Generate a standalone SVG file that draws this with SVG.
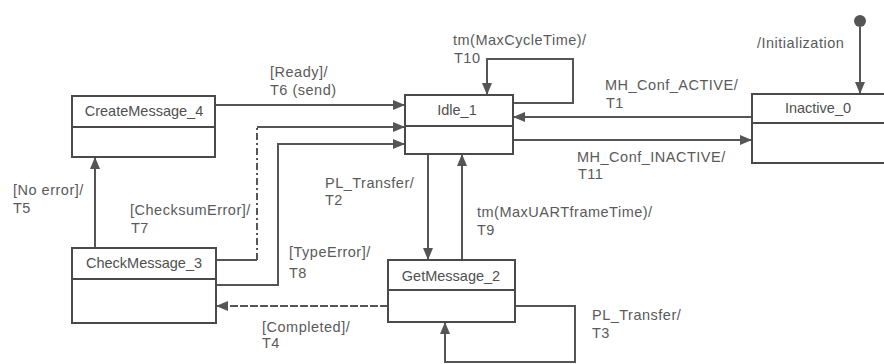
<svg xmlns="http://www.w3.org/2000/svg" width="884" height="364" viewBox="0 0 884 364">
<style>
.box{fill:#fff;stroke:#4a4a4a;stroke-width:2}
.div{stroke:#4a4a4a;stroke-width:2}
.name{font-family:"Liberation Sans",Arial,sans-serif;font-size:14.5px;fill:#505050;text-anchor:middle}
.lbl{font-family:"Liberation Sans",Arial,sans-serif;font-size:14.5px;fill:#5a5a5a;letter-spacing:0.5px}
.c{fill:none;stroke:#555;stroke-width:2}
.dd{stroke-dasharray:7,3,2,3}
.da{stroke-dasharray:8,2}
</style>
<defs>
<marker id="ah" markerWidth="12" markerHeight="10" refX="11" refY="5" orient="auto" markerUnits="userSpaceOnUse">
<path d="M0,0 L12,5 L0,10 Z" fill="#555"/>
</marker>
</defs>
<rect width="884" height="364" fill="#fff"/>
<g id="connectors">
<path class="c" d="M215,105 H404" marker-end="url(#ah)"/>
<path class="c" d="M216,260 H257"/>
<path class="c dd" d="M257,260 V127"/>
<path class="c" d="M257,127 H404" marker-end="url(#ah)"/>
<path class="c" d="M216,285 H278 V144 H404" marker-end="url(#ah)"/>
<path class="c" d="M95,248 V158" marker-end="url(#ah)"/>
<path class="c" d="M514,103 H573 V59 H487 V94" marker-end="url(#ah)"/>
<path class="c" d="M752,117 H514" marker-end="url(#ah)"/>
<path class="c" d="M513,140 H751" marker-end="url(#ah)"/>
<circle cx="860" cy="21" r="6" fill="#555"/>
<path class="c" d="M860,27 V93" marker-end="url(#ah)"/>
<path class="c" d="M428,154 V259" marker-end="url(#ah)"/>
<path class="c" d="M462,260 V155" marker-end="url(#ah)"/>
<path class="c da" d="M388,306 H217" marker-end="url(#ah)"/>
<path class="c" d="M515,306 H575 V362 H445 V323" marker-end="url(#ah)"/>
</g>
<g id="CreateMessage_4">
<rect class="box" x="72" y="96" width="143" height="61"/>
<line class="div" x1="72" y1="127" x2="215" y2="127"/>
<text class="name" x="144" y="116">CreateMessage_4</text>
</g>
<g id="Idle_1">
<rect class="box" x="405" y="95" width="108" height="59"/>
<line class="div" x1="405" y1="126" x2="513" y2="126"/>
<text class="name" x="457" y="115">Idle_1</text>
</g>
<g id="Inactive_0">
<rect class="box" x="752" y="94" width="140" height="69"/>
<line class="div" x1="752" y1="123" x2="892" y2="123"/>
<text class="name" x="818" y="113">Inactive_0</text>
</g>
<g id="CheckMessage_3">
<rect class="box" x="72" y="248" width="144" height="75"/>
<line class="div" x1="72" y1="279" x2="216" y2="279"/>
<text class="name" x="144" y="268">CheckMessage_3</text>
</g>
<g id="GetMessage_2">
<rect class="box" x="388" y="260" width="127" height="62"/>
<line class="div" x1="388" y1="290" x2="515" y2="290"/>
<text class="name" x="451" y="281">GetMessage_2</text>
</g>
<g id="labels">
<text class="lbl" x="270" y="77">[Ready]/</text>
<text class="lbl" x="270" y="95">T6 (send)</text>
<text class="lbl" x="453" y="45">tm(MaxCycleTime)/</text>
<text class="lbl" x="454" y="63">T10</text>
<text class="lbl" x="605" y="90">MH_Conf_ACTIVE/</text>
<text class="lbl" x="606" y="108">T1</text>
<text class="lbl" x="577" y="162">MH_Conf_INACTIVE/</text>
<text class="lbl" x="578" y="179">T11</text>
<text class="lbl" x="757" y="48">/Initialization</text>
<text class="lbl" x="13" y="195">[No error]/</text>
<text class="lbl" x="13" y="213">T5</text>
<text class="lbl" x="130" y="215">[ChecksumError]/</text>
<text class="lbl" x="131" y="233">T7</text>
<text class="lbl" x="289" y="257">[TypeError]/</text>
<text class="lbl" x="289" y="278">T8</text>
<text class="lbl" x="325" y="188">PL_Transfer/</text>
<text class="lbl" x="325" y="205">T2</text>
<text class="lbl" x="477" y="217">tm(MaxUARTframeTime)/</text>
<text class="lbl" x="477" y="235">T9</text>
<text class="lbl" x="262" y="332">[Completed]/</text>
<text class="lbl" x="262" y="348">T4</text>
<text class="lbl" x="592" y="320">PL_Transfer/</text>
<text class="lbl" x="592" y="338">T3</text>
</g>
</svg>
